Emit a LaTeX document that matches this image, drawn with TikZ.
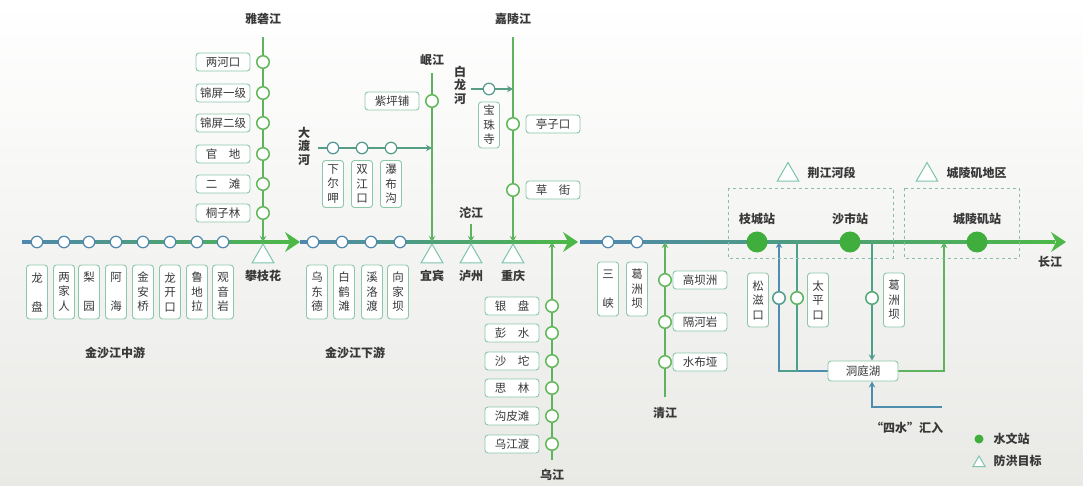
\documentclass[tikz,border=0pt]{standalone}
\usepackage{fontspec}
\setmainfont{Noto Sans CJK SC}
\usetikzlibrary{arrows.meta,shapes.geometric}
\definecolor{mblue}{HTML}{4F87AE}
\definecolor{agreen}{HTML}{4DB848}
\definecolor{lgreen}{HTML}{5DB35E}
\definecolor{cgreen}{HTML}{62B85A}
\definecolor{boxc}{HTML}{8CC7AA}
\definecolor{hgreen}{HTML}{3FAE3C}
\definecolor{tric}{HTML}{7CC4AE}
\definecolor{txt}{HTML}{383838}
\definecolor{bgb}{HTML}{E9EAE6}
\definecolor{tblue}{HTML}{4E8DAE}
\definecolor{tteal}{HTML}{4FA08A}
\definecolor{dashc}{HTML}{8CBCAE}
\pgfdeclarelayer{bg}
\pgfdeclarelayer{ln}
\pgfsetlayers{bg,ln,main}
\begin{document}
\begin{tikzpicture}[x=1pt,y=-1pt,
  hbox/.style={draw=boxc, line width=0.9pt, rounded corners=3pt, fill=white, minimum width=54pt, minimum height=18pt, inner sep=1pt, font=\fontsize{11.5}{13}\selectfont, text=txt},
  vbox/.style={draw=boxc, line width=0.9pt, rounded corners=3pt, fill=white, minimum width=21pt, minimum height=54pt, inner sep=1pt, align=center, font=\fontsize{11.5}{14.5}\selectfont, text=txt},
  ms/.style={circle, draw=mblue, fill=white, line width=1.2pt, minimum size=11.5pt, inner sep=0pt},
  ts/.style={circle, draw=cgreen, fill=white, line width=1.5pt, minimum size=12.5pt, inner sep=0pt},
  hs/.style={circle, fill=hgreen, minimum size=21pt, inner sep=0pt},
  tri/.style={regular polygon, regular polygon sides=3, draw=tric, fill=white, line width=1pt, minimum size=25pt, inner sep=0pt, outer sep=0pt},
  lbl/.style={font=\fontsize{12}{14}\selectfont\bfseries, text=txt},
  vlbl/.style={font=\fontsize{12}{13.5}\selectfont\bfseries, text=txt, align=center},
  trib/.style={draw=lgreen, line width=1.5pt},
  tip/.style={-{Stealth[length=6pt,width=6.5pt]}},
  bigarrow/.style={fill=agreen}
]
\useasboundingbox (0,0) rectangle (1083,486);
\begin{pgfonlayer}{bg}
\shade[top color=white, bottom color=bgb] (0,0) rectangle (1083,486);
\end{pgfonlayer}

% ---------- main line stations, segment 1 ----------
\node[ms] (a1) at (37,242) {};
\node[ms] (a2) at (64,242) {};
\node[ms] (a3) at (89,242) {};
\node[ms] (a4) at (116,242) {};
\node[ms] (a5) at (143,242) {};
\node[ms] (a6) at (170,242) {};
\node[ms] (a7) at (197,242) {};
\node[ms] (a8) at (223,242) {};
\node[vbox] (b1) at (37,292) {龙\\~\\盘};
\node[vbox] (b2) at (64,292) {两\\家\\人};
\node[vbox] (b3) at (89,292) {梨\\~\\园};
\node[vbox] (b4) at (116,292) {阿\\~\\海};
\node[vbox] (b5) at (143,292) {金\\安\\桥};
\node[vbox] (b6) at (170,292) {龙\\开\\口};
\node[vbox] (b7) at (197,292) {鲁\\地\\拉};
\node[vbox] (b8) at (223,292) {观\\音\\岩};
\node[lbl] (zy) at (115,353) {金沙江中游};

% ---------- Yalong ----------
\node[lbl] (ya) at (263,19) {雅砻江};
\coordinate (ya0) at (263,37);
\coordinate (yaE) at (263,242);
\node[ts] (y1) at (263,62) {};
\node[ts] (y2) at (263,93) {};
\node[ts] (y3) at (263,123) {};
\node[ts] (y4) at (263,154) {};
\node[ts] (y5) at (263,184) {};
\node[ts] (y6) at (263,213) {};
\node[hbox] (yb1) at (223,62) {两河口};
\node[hbox] (yb2) at (223,93) {锦屏一级};
\node[hbox] (yb3) at (223,123) {锦屏二级};
\node[hbox] (yb4) at (223,154) {官\hspace{1em}地};
\node[hbox] (yb5) at (223,184) {二\hspace{1em}滩};
\node[hbox] (yb6) at (223,213) {桐子林};
\node[tri, anchor=corner 1] (pzh) at (263,244) {};
\node[lbl] (pzhl) at (263,276) {攀枝花};

% ---------- segment 2 ----------
\node[ms] (c1) at (313,242) {};
\node[ms] (c2) at (342,242) {};
\node[ms] (c3) at (371,242) {};
\node[ms] (c4) at (400,242) {};
\node[vbox] (d1) at (317,292) {乌\\东\\德};
\node[vbox] (d2) at (344,292) {白\\鹤\\滩};
\node[vbox] (d3) at (372,292) {溪\\洛\\渡};
\node[vbox] (d4) at (398,292) {向\\家\\坝};
\node[lbl] (xy) at (355,353) {金沙江下游};

% Min
\node[lbl] (mj) at (432,60) {岷江};
\coordinate (mj0) at (432,73);
\coordinate (mjE) at (432,242);
\node[ts] (m1) at (432,101) {};
\node[hbox] (mb1) at (392,101) {紫坪铺};
% Dadu
\node[vlbl] (dd) at (304,146) {大\\渡\\河};
\coordinate (dd0) at (318,148);
\coordinate (ddE) at (432,148);
\node[ms, draw=mblue!70!lgreen] (e1) at (333,148) {};
\node[ms, draw=mblue!60!lgreen] (e2) at (362,148) {};
\node[ms, draw=mblue!50!lgreen] (e3) at (391,148) {};
\node[vbox, minimum height=47pt] (f1) at (333,184) {下\\尔\\呷};
\node[vbox, minimum height=47pt] (f2) at (362,184) {双\\江\\口};
\node[vbox, minimum height=47pt] (f3) at (391,184) {瀑\\布\\沟};
\node[tri, anchor=corner 1] (yb) at (432,244) {};
\node[lbl] (ybl) at (432,276) {宜宾};
% Tuo
\node[lbl] (tj) at (471,213) {沱江};
\coordinate (tj0) at (471,224);
\coordinate (tjE) at (471,242);
\node[tri, anchor=corner 1] (lz) at (471,244) {};
\node[lbl] (lzl) at (471,276) {泸州};
% Jialing
\node[lbl] (jl) at (513,19) {嘉陵江};
\coordinate (jl0) at (513,37);
\coordinate (jlE) at (513,242);
\node[ts] (j1) at (513,124) {};
\node[ts] (j2) at (513,190) {};
\node[hbox] (jb1) at (553,124) {亭子口};
\node[hbox] (jb2) at (553,190) {草\hspace{1em}街};
% Bailong
\node[vlbl] (bl) at (460,85) {白\\龙\\河};
\coordinate (bl0) at (471,89);
\coordinate (blE) at (513,89);
\node[ms, draw=mblue!60!lgreen] (k1) at (489,89) {};
\node[vbox, minimum height=46pt] (kb1) at (489,125) {宝\\珠\\寺};
\node[tri, anchor=corner 1] (cq) at (513,244) {};
\node[lbl] (cql) at (513,276) {重庆};
% Wu
\node[lbl] (wj) at (552,475) {乌江};
\coordinate (wj0) at (552,460);
\coordinate (wjE) at (552,242);
\node[ts] (w1) at (552,306) {};
\node[ts] (w2) at (552,333) {};
\node[ts] (w3) at (552,361) {};
\node[ts] (w4) at (552,388) {};
\node[ts] (w5) at (552,416) {};
\node[ts] (w6) at (552,444) {};
\node[hbox] (wb1) at (512,306) {银\hspace{1em}盘};
\node[hbox] (wb2) at (512,333) {彭\hspace{1em}水};
\node[hbox] (wb3) at (512,361) {沙\hspace{1em}坨};
\node[hbox] (wb4) at (512,388) {思\hspace{1em}林};
\node[hbox] (wb5) at (512,416) {沟皮滩};
\node[hbox] (wb6) at (512,444) {乌江渡};

% ---------- segment 3 ----------
\node[ms] (g1) at (608,242) {};
\node[ms] (g2) at (637,242) {};
\node[vbox] (h1) at (608,289) {三\\~\\峡};
\node[vbox] (h2) at (637,289) {葛\\洲\\坝};
% Qing
\node[lbl] (qj) at (665,413) {清江};
\coordinate (qj0) at (665,397);
\coordinate (qjE) at (665,242);
\node[ts] (q1) at (665,280) {};
\node[ts] (q2) at (665,322) {};
\node[ts] (q3) at (665,362) {};
\node[hbox] (qb1) at (700,280) {高坝洲};
\node[hbox] (qb2) at (700,322) {隔河岩};
\node[hbox] (qb3) at (700,362) {水布垭};

% regions
\draw[dashc, dashed, line width=0.8pt] (728,188) rectangle (893,258);
\draw[dashc, dashed, line width=0.8pt] (904,188) rectangle (1019,258);
\node[tri] (r1) at (788,175) {};
\node[lbl, anchor=west] (r1l) at (804,173) {荆江河段};
\node[tri] (r2) at (927,175) {};
\node[lbl, anchor=west] (r2l) at (943,173) {城陵矶地区};

% hydro stations
\node[hs] (s1) at (757,242) {};
\node[hs] (s2) at (850,242) {};
\node[hs] (s3) at (977,242) {};
\node[lbl] (s1l) at (757,219) {枝城站};
\node[lbl] (s2l) at (850,219) {沙市站};
\node[lbl] (s3l) at (977,219) {城陵矶站};
\node[lbl] (cj) at (1050,262) {长江};

% Dongting
\node[hbox, minimum width=70pt, minimum height=20pt] (dt) at (863,371) {洞庭湖};
\coordinate (sz0) at (779,371);
\coordinate (szE) at (779,242);
\coordinate (tp0) at (797,242);
\coordinate (tp1) at (797,371);
\coordinate (oc0) at (872,242);
\coordinate (rt1) at (944,371);
\coordinate (rtE) at (944,242);
\coordinate (sw0) at (942,407);
\coordinate (sw1) at (872,407);
\node[ts, draw=tblue!60!lgreen] (o1) at (779,298) {};
\node[ts, draw=lgreen] (o2) at (797,298) {};
\node[ts, draw=tteal!60!lgreen] (o3) at (872,298) {};
\node[vbox] (ob1) at (758,300) {松\\滋\\口};
\node[vbox] (ob2) at (818,300) {太\\平\\口};
\node[vbox] (ob3) at (894,300) {葛\\洲\\坝};
\node[lbl] (swl) at (907,428) {“四水”汇入};

% legend
\node[circle, fill=hgreen, minimum size=9pt, inner sep=0pt] (lg1) at (979,439) {};
\node[lbl, anchor=west] (lg1t) at (990,439) {水文站};
\node[tri, minimum size=14pt] (lg2) at (979,463) {};
\node[lbl, anchor=west] (lg2t) at (990,461) {防洪目标};

% ---------- lines ----------
\begin{pgfonlayer}{ln}
\shade[left color=mblue, right color=agreen] (22,240.5) rectangle (290,243.5);
\fill[bigarrow] (300,242) -- (285,232) -- (290,242) -- (285,252) -- cycle;
\shade[left color=mblue, right color=agreen] (300,240.5) rectangle (568,243.5);
\fill[bigarrow] (578,242) -- (563,232) -- (568,242) -- (563,252) -- cycle;
\shade[left color=mblue, right color=agreen] (580,240.5) rectangle (1055,243.5);
\fill[bigarrow] (1066,242) -- (1051,232) -- (1056,242) -- (1051,252) -- cycle;

\draw[trib, tip] (ya0) -- (yaE);
\draw[trib, tip] (mj0) -- (mjE);
\draw[trib, tip, draw=mblue!50!lgreen] (dd0) -- (ddE);
\draw[trib, tip] (tj0) -- (tjE);
\draw[trib, tip] (jl0) -- (jlE);
\draw[trib, tip, draw=mblue!50!lgreen] (bl0) -- (blE);
\draw[trib, tip] (wj0) -- (wjE);
\draw[trib, tip] (qj0) -- (qjE);

\draw[trib, tip, draw=tblue] (dt.west) -- (sz0) -- (szE);
\draw[trib, draw=tteal] (tp0) -- (tp1) -- (sz0);
\draw[trib, tip, draw=tteal] (oc0) -- (dt.north -| oc0);
\draw[trib, tip, draw=lgreen] (dt.east) -- (rt1) -- (rtE);
\draw[trib, tip, draw=tblue] (sw0) -- (sw1) -- (dt.south -| sw1);
\end{pgfonlayer}
\end{tikzpicture}
\end{document}
